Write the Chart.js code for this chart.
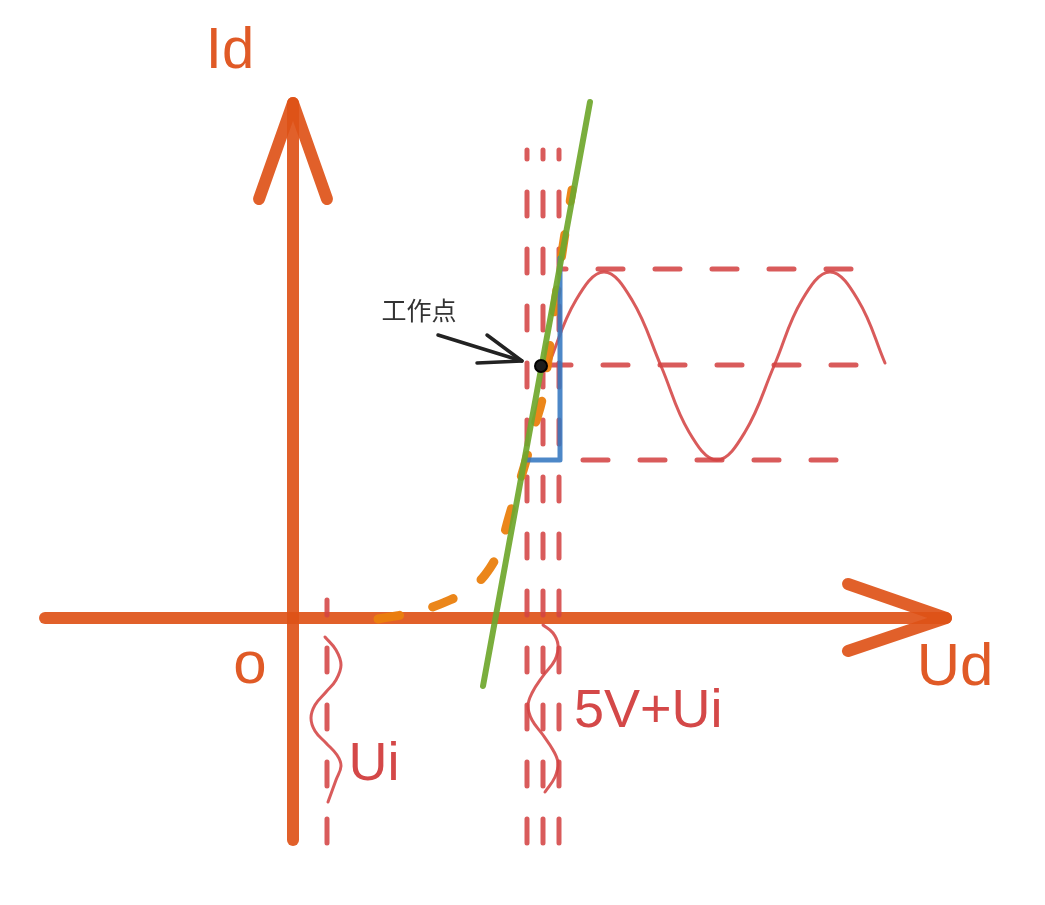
<!DOCTYPE html>
<html>
<head>
<meta charset="utf-8">
<script src="https://cdn.jsdelivr.net/npm/chart.js@4"></script>
<style>
body{margin:0;background:#fff;}
#wrap{width:1045px;height:905px;}
</style>
</head>
<body>
<div id="wrap"><canvas id="diodeChart"></canvas></div>
<script>
// Diode I-V curve with operating point (units: origin at the axes crossing)

// axes
const axisYx=[0,0];
const axisYy=[-222,515];
const arrowYx=[-34,0,34];
const arrowYy=[419,515,419];
const axisXx=[-248,653];
const axisXy=[0,0];
const arrowXx=[555,653,555];
const arrowXy=[34,0,-33];

// vertical dashed marks (Ui and 5V+Ui), drawn bottom-up
const vLineX=[34,234,250,266];
const vLineTop=[18,468,468,468];
const vLineBottom=[-225,-225,-225,-225];

// horizontal dashed levels: max, working point, min, drawn right-to-left
const hLineY=[349,253,158];
const hLineRight=[558,563,543];
const hLineLeft=[267,252,267];

// output signal (sine)
const sineX=[255,283,311,339,368,396,424,452,481,509,537,565,592];
const sineY=[252,318,346,318,252,186,158,186,252,318,346,318,255];

// diode curve (orange dashed)
const curveX=[85,122,157,182,197,207,216,225,234,241,249,255,260,269,279];
const curveY=[-1,6,18,33,50,70,101,131,161,190,218,258,298,365,428];

// tangent line at the working point
const tangentX=[190,297];
const tangentY=[-68,516];

// slope triangle
const triX=[267,267,234];
const triY=[360,158,158];

// working point
const workX=[248];
const workY=[252];

// annotation arrow
const pointerX=[145,229];
const pointerY=[283,257];
const pointerHeadX=[194,229,184];
const pointerHeadY=[283,257,255];

// small input signals along the dashed marks
const inUiX=[32,43,48,43,33,22,18,22,33,44,48,43,35];
const inUiY=[-19,-32,-47,-62,-74,-87,-100,-113,-125,-137,-148,-162,-184];
const in5vX=[250,260,265,262,250,239,235,239,250,260,265,262,252];
const in5vY=[-7,-15,-27,-42,-58,-75,-88,-102,-117,-132,-145,-159,-174];

// text labels
const labelText=['Id','o','Ud','Ui','5V+Ui','工作点'];
const labelX=[-63,-43,662,81,281,126];
const labelY=[566,-48,-50,-147,-94,308];

const pts=(xs,ys)=>xs.map((x,i)=>({x:x,y:ys[i]}));

const orange='rgba(222,82,24,0.92)';
const red='rgba(212,68,68,0.88)';

function line(xs,ys,color,width,order,dash){
return{
data:pts(xs,ys),
showLine:true,
borderColor:color,
borderWidth:width,
borderCapStyle:'round',
borderJoinStyle:'round',
borderDash:dash||[],
pointRadius:0,
fill:false,
tension:0,
order:order
};
}

function wave(xs,ys,color,width,order){
const d=line(xs,ys,color,width,order);
d.tension=0.4;
return d;
}

const datasets=[
line(axisYx,axisYy,orange,12,20),
line(arrowYx,arrowYy,orange,12,20),
line(axisXx,axisXy,orange,12,20),
line(arrowXx,arrowXy,orange,12,20)
];

vLineX.forEach((x,i)=>{
datasets.push(line([x,x],[vLineBottom[i],vLineTop[i]],red,5,15,[24,33]));
});

hLineY.forEach((y,i)=>{
datasets.push(line([hLineRight[i],hLineLeft[i]],[y,y],red,5,15,[25,32]));
});

datasets.push(wave(sineX,sineY,red,3,14));
datasets.push(wave(inUiX,inUiY,red,3,14));
datasets.push(wave(in5vX,in5vY,red,3,14));

const curve=line(curveX,curveY,'rgba(234,128,14,0.95)',9,12,[22,34]);
curve.tension=0.4;
datasets.push(curve);

datasets.push(line(triX,triY,'rgba(52,120,192,0.88)',5,11));
datasets.push(line(tangentX,tangentY,'rgba(112,168,46,0.93)',6,10));
datasets.push(line(pointerX,pointerY,'#222',3.5,5));
datasets.push(line(pointerHeadX,pointerHeadY,'#222',3.5,5));

datasets.push({
data:pts(workX,workY),
showLine:false,
pointRadius:6,
pointBackgroundColor:'#1c1c1c',
pointBorderColor:'#000',
pointBorderWidth:2,
order:1
});

const labelStyle=[
{font:'58px "Liberation Sans", Arial, sans-serif',color:'#e05a26'},
{font:'60px "Liberation Sans", Arial, sans-serif',color:'#e05a26'},
{font:'60px "Liberation Sans", Arial, sans-serif',color:'#e05a26'},
{font:'54px "Liberation Sans", Arial, sans-serif',color:'#d44848'},
{font:'54px "Liberation Sans", Arial, sans-serif',color:'#d44848'},
{font:'25px "Noto Sans CJK SC", sans-serif',color:'#333'}
];

const textPlugin={
id:'textLabels',
afterDatasetsDraw(chart){
const ctx=chart.ctx;
const xs=chart.scales.x,ys=chart.scales.y;
ctx.save();
ctx.textBaseline='middle';
labelText.forEach((t,i)=>{
ctx.font=labelStyle[i].font;
ctx.fillStyle=labelStyle[i].color;
ctx.textAlign=i===4?'left':'center';
ctx.fillText(t,xs.getPixelForValue(labelX[i]),ys.getPixelForValue(labelY[i]));
});
ctx.restore();
}
};

new Chart(document.getElementById('diodeChart'),{
type:'scatter',
data:{datasets:datasets},
options:{
responsive:true,
maintainAspectRatio:false,
animation:false,
layout:{padding:0,autoPadding:false},
plugins:{legend:{display:false},tooltip:{enabled:false}},
scales:{
x:{type:'linear',min:-293,max:752,display:false},
y:{type:'linear',min:-287,max:618,display:false}
}
},
plugins:[textPlugin]
});
</script>
</body>
</html>
